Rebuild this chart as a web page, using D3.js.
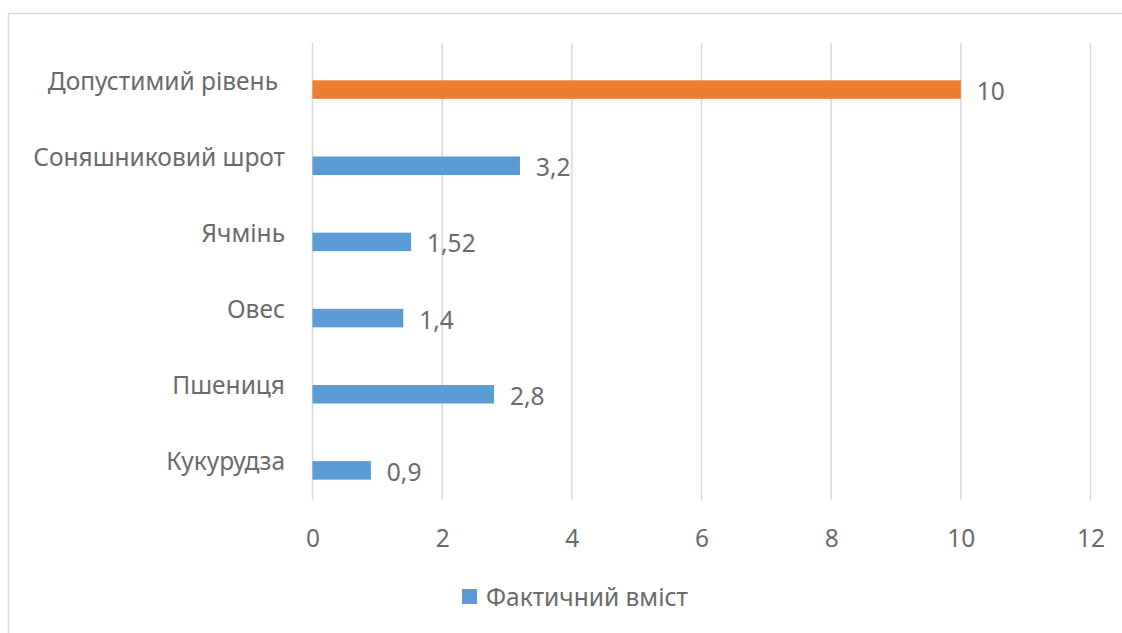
<!DOCTYPE html>
<html>
<head>
<meta charset="utf-8">
<script src="https://cdn.jsdelivr.net/npm/d3@7"></script>
<style>
  body { margin: 0; background: #fff; }
  text { font-family: "Noto Sans", "Open Sans", sans-serif; fill: #6b6b6b; }
</style>
</head>
<body>
<svg id="chart"></svg>
<script>
// Data
const categories = ["Допустимий рівень", "Соняшниковий шрот", "Ячмінь", "Овес", "Пшениця", "Кукурудза"];
const values = [10, 3.2, 1.52, 1.4, 2.8, 0.9];
const valueLabels = ["10", "3,2", "1,52", "1,4", "2,8", "0,9"];
const barColors = ["#ED7D31", "#5B9BD5", "#5B9BD5", "#5B9BD5", "#5B9BD5", "#5B9BD5"];
const xTicks = [0, 2, 4, 6, 8, 10, 12];
const legendLabel = "Фактичний вміст";

const width = 1122, height = 633;
const plot = { left: 312.5, right: 1090.5, top: 43, bottom: 500 };
const fontSize = "24.5px";

const svg = d3.select("#chart").attr("width", width).attr("height", height);

// Outer chart border (extends past the picture on right/bottom)
svg.append("rect")
    .attr("x", 8.5).attr("y", 13.5)
    .attr("width", 1140).attr("height", 660)
    .attr("fill", "none")
    .attr("stroke", "#d9d9d9")
    .attr("stroke-width", 1.5);

const x = d3.scaleLinear().domain([0, 12]).range([plot.left, plot.right]);
const y = d3.scaleBand().domain(categories).range([plot.top, plot.bottom]);

// Gridlines
svg.append("g")
    .selectAll("line")
    .data(xTicks)
    .enter()
    .append("line")
    .attr("x1", d => x(d)).attr("x2", d => x(d))
    .attr("y1", plot.top).attr("y2", plot.bottom)
    .attr("stroke", "#d9d9d9")
    .attr("stroke-width", 1.5);

// Axis tick labels
const xAxis = d3.axisBottom(x).tickValues(xTicks).tickSize(0).tickPadding(0);
const axisG = svg.append("g")
    .attr("transform", `translate(0, ${plot.bottom})`)
    .call(xAxis);
axisG.select(".domain").remove();
axisG.selectAll("text")
    .attr("y", 38)
    .attr("dy", "0.35em")
    .style("font-size", fontSize)
    .style("font-family", "'Noto Sans', sans-serif")
    .attr("fill", "#6b6b6b");

// Bars (sit below the middle of each band)
const barH = 18.5, barOffset = 8.5;
svg.append("g")
    .selectAll("rect")
    .data(values)
    .enter()
    .append("rect")
    .attr("x", x(0))
    .attr("y", (d, i) => y(categories[i]) + y.bandwidth() / 2 + barOffset - barH / 2)
    .attr("width", d => x(d) - x(0))
    .attr("height", barH)
    .attr("fill", (d, i) => barColors[i]);

// Value labels
svg.append("g")
    .selectAll("text")
    .data(values)
    .enter()
    .append("text")
    .attr("x", d => x(d) + 16)
    .attr("y", (d, i) => y(categories[i]) + y.bandwidth() / 2 + barOffset + 2)
    .attr("dy", "0.35em")
    .style("font-size", fontSize)
    .text((d, i) => valueLabels[i]);

// Category labels
svg.append("g")
    .selectAll("text")
    .data(categories)
    .enter()
    .append("text")
    .attr("x", (d, i) => i === 0 ? 278 : 285)
    .attr("y", d => y(d) + y.bandwidth() / 2)
    .attr("dy", "0.35em")
    .attr("text-anchor", "end")
    .style("font-size", fontSize)
    .text(d => d);

// Legend
const legend = svg.append("g").attr("transform", "translate(462, 589)");
legend.append("rect")
    .attr("width", 15).attr("height", 15)
    .attr("fill", "#5B9BD5");
legend.append("text")
    .attr("x", 24).attr("y", 8)
    .attr("dy", "0.35em")
    .style("font-size", fontSize)
    .text(legendLabel);
</script>
</body>
</html>
